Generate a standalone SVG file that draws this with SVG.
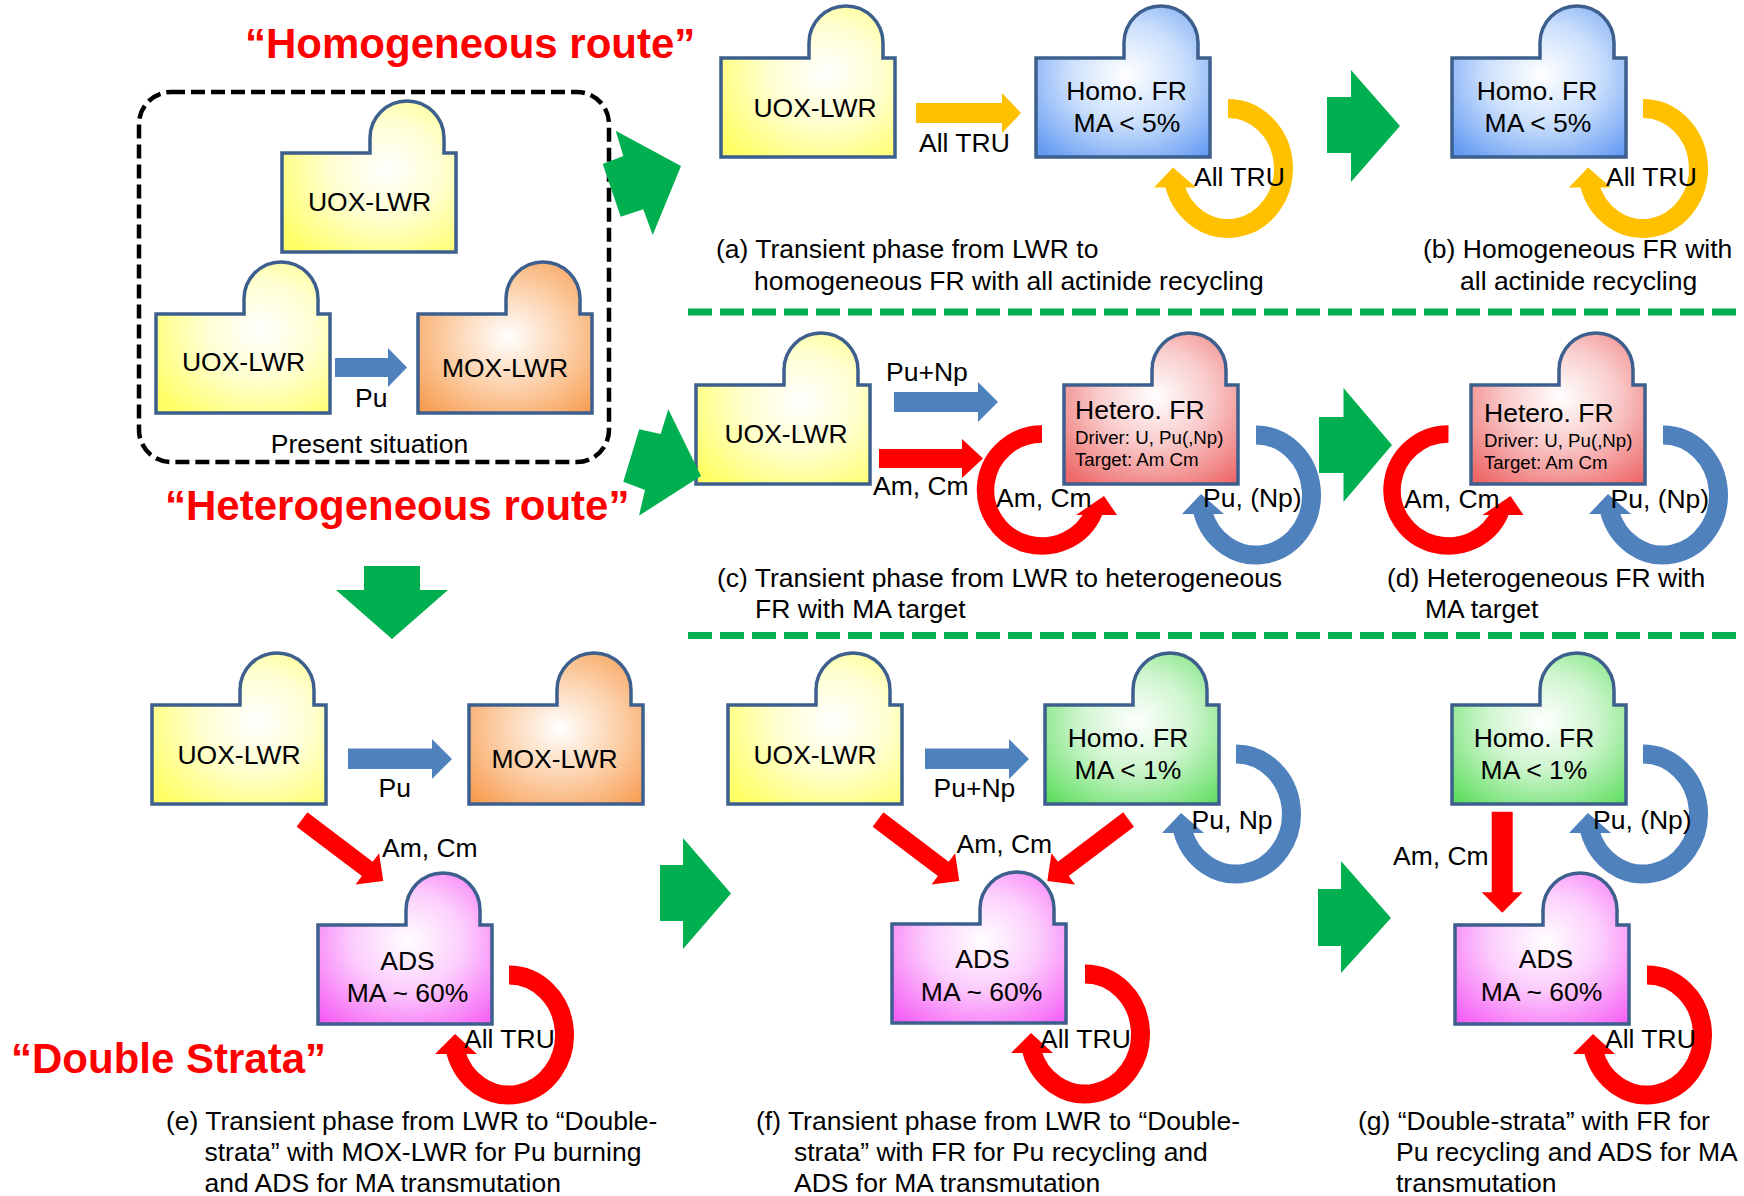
<svg xmlns="http://www.w3.org/2000/svg" xmlns:xlink="http://www.w3.org/1999/xlink" width="1744" height="1196" viewBox="0 0 1744 1196">
<style>
.t{font-family:"Liberation Sans",Arial,sans-serif;font-size:26.5px;fill:#000}
.c{text-anchor:middle}
.s{font-size:18.7px}
.ttl{font-family:"Liberation Sans",Arial,sans-serif;font-size:42px;font-weight:bold;fill:#FF0000}
.nd{stroke:#3D5F8E;stroke-width:3.5;stroke-linejoin:miter}
.gr{fill:#00B050}
.rd{fill:#FF0000}
.bl{fill:#4F81BD}
.ye{fill:#FFC000}
.lp{fill:none;stroke-linecap:butt}
</style>
<defs>
<path id="shp" d="M0,0 H88 V-15 A37,37 0 0 1 162,-15 V0 H174 V99 H0 Z"/>
<radialGradient id="gY" cx="0.6" cy="0.45" r="0.72"><stop offset="0" stop-color="#FFFFFF"/><stop offset="0.45" stop-color="#FFFFD0"/><stop offset="1" stop-color="#FFFF66"/></radialGradient>
<radialGradient id="gO" cx="0.52" cy="0.5" r="0.72"><stop offset="0" stop-color="#FFFFFF"/><stop offset="0.45" stop-color="#FCD3AE"/><stop offset="1" stop-color="#F79646"/></radialGradient>
<radialGradient id="gB" cx="0.52" cy="0.45" r="0.72"><stop offset="0" stop-color="#FFFFFF"/><stop offset="0.45" stop-color="#CCE0FC"/><stop offset="1" stop-color="#6098F2"/></radialGradient>
<radialGradient id="gR" cx="0.52" cy="0.42" r="0.72"><stop offset="0" stop-color="#FFFFFF"/><stop offset="0.45" stop-color="#F9CACA"/><stop offset="1" stop-color="#EE6868"/></radialGradient>
<radialGradient id="gG" cx="0.52" cy="0.45" r="0.72"><stop offset="0" stop-color="#FFFFFF"/><stop offset="0.45" stop-color="#CDF5CD"/><stop offset="1" stop-color="#5EDE5E"/></radialGradient>
<radialGradient id="gM" cx="0.52" cy="0.45" r="0.72"><stop offset="0" stop-color="#FFFFFF"/><stop offset="0.45" stop-color="#FCCDFC"/><stop offset="1" stop-color="#F55CF5"/></radialGradient>
</defs>
<rect width="1744" height="1196" fill="#FFFFFF"/>

<!-- titles -->
<text class="ttl" x="245" y="58">“Homogeneous route”</text>
<text class="ttl" x="165" y="520">“Heterogeneous route”</text>
<text class="ttl" x="11" y="1073">“Double Strata”</text>

<!-- present situation frame -->
<g id="present-frame">
<rect x="139" y="92" width="470" height="370" rx="32" ry="32" fill="none" stroke="#000" stroke-width="4.5" stroke-dasharray="14 6"/>
<text class="t c" x="369.5" y="453">Present situation</text>
</g>

<!-- dashed separators -->
<g id="separators" stroke="#00B050" stroke-width="7" stroke-dasharray="24 8" fill="none">
<line x1="688" y1="312" x2="1736" y2="312"/>
<line x1="688" y1="635.5" x2="1736" y2="635.5"/>
</g>

<!-- nodes -->
<g id="n-present-uox-top"><use xlink:href="#shp" transform="translate(282,153)" fill="url(#gY)" class="nd"/><text class="t c" x="369.5" y="211">UOX-LWR</text></g>
<g id="n-present-uox"><use xlink:href="#shp" transform="translate(156,314)" fill="url(#gY)" class="nd"/><text class="t c" x="243.5" y="371">UOX-LWR</text></g>
<g id="n-present-mox"><use xlink:href="#shp" transform="translate(418,314)" fill="url(#gO)" class="nd"/><text class="t c" x="505" y="377">MOX-LWR</text></g>

<g id="n-a-uox"><use xlink:href="#shp" transform="translate(721,58)" fill="url(#gY)" class="nd"/><text class="t c" x="815" y="117">UOX-LWR</text></g>
<g id="n-a-fr"><use xlink:href="#shp" transform="translate(1036,58)" fill="url(#gB)" class="nd"/><text class="t c" x="1126.5" y="100">Homo. FR</text><text class="t c" x="1127" y="132">MA &lt; 5%</text></g>
<g id="n-b-fr"><use xlink:href="#shp" transform="translate(1452,58)" fill="url(#gB)" class="nd"/><text class="t c" x="1537" y="100">Homo. FR</text><text class="t c" x="1538" y="132">MA &lt; 5%</text></g>

<g id="n-c-uox"><use xlink:href="#shp" transform="translate(696,385)" fill="url(#gY)" class="nd"/><text class="t c" x="786" y="443">UOX-LWR</text></g>
<g id="n-c-fr"><use xlink:href="#shp" transform="translate(1064,385)" fill="url(#gR)" class="nd"/><text class="t" x="1075" y="419">Hetero. FR</text><text class="t s" x="1075" y="444">Driver: U, Pu(,Np)</text><text class="t s" x="1075" y="466">Target: Am Cm</text></g>
<g id="n-d-fr"><use xlink:href="#shp" transform="translate(1471,385)" fill="url(#gR)" class="nd"/><text class="t" x="1484" y="422">Hetero. FR</text><text class="t s" x="1484" y="447">Driver: U, Pu(,Np)</text><text class="t s" x="1484" y="469">Target: Am Cm</text></g>

<g id="n-e-uox"><use xlink:href="#shp" transform="translate(152,705)" fill="url(#gY)" class="nd"/><text class="t c" x="239" y="763.5">UOX-LWR</text></g>
<g id="n-e-mox"><use xlink:href="#shp" transform="translate(469,705)" fill="url(#gO)" class="nd"/><text class="t c" x="554.5" y="768">MOX-LWR</text></g>
<g id="n-e-ads"><use xlink:href="#shp" transform="translate(318,925)" fill="url(#gM)" class="nd"/><text class="t c" x="407.5" y="969.5">ADS</text><text class="t c" x="407.5" y="1002">MA ~ 60%</text></g>

<g id="n-f-uox"><use xlink:href="#shp" transform="translate(728,705)" fill="url(#gY)" class="nd"/><text class="t c" x="815" y="764">UOX-LWR</text></g>
<g id="n-f-fr"><use xlink:href="#shp" transform="translate(1045,705)" fill="url(#gG)" class="nd"/><text class="t c" x="1128" y="747">Homo. FR</text><text class="t c" x="1128" y="779">MA &lt; 1%</text></g>
<g id="n-f-ads"><use xlink:href="#shp" transform="translate(892,924)" fill="url(#gM)" class="nd"/><text class="t c" x="982.5" y="968">ADS</text><text class="t c" x="981.6" y="1001">MA ~ 60%</text></g>

<g id="n-g-fr"><use xlink:href="#shp" transform="translate(1452,705)" fill="url(#gG)" class="nd"/><text class="t c" x="1534" y="747">Homo. FR</text><text class="t c" x="1534" y="779">MA &lt; 1%</text></g>
<g id="n-g-ads"><use xlink:href="#shp" transform="translate(1455,925)" fill="url(#gM)" class="nd"/><text class="t c" x="1546" y="968">ADS</text><text class="t c" x="1541.5" y="1001">MA ~ 60%</text></g>

<!-- connectors -->
<g id="connectors">
<!-- big green transition arrows -->
<polygon class="gr" points="602.7,164 623.3,156 615.7,130.7 681,166 652.7,235 643.3,209.3 620.7,216.7"/>
<polygon class="gr" points="623.3,481.7 639.3,429.3 660.7,434 668.3,409.3 701,476 639,515.7 645,490"/>
<polygon class="gr" points="1327,97 1351,97 1351,70 1400,126 1351,182 1351,153 1327,153"/>
<polygon class="gr" points="1319,417 1343.5,417 1343.5,388 1392,445 1343.5,502 1343.5,473 1319,473"/>
<polygon class="gr" points="660,865 683,865 683,838 731,893.5 683,949 683,921 660,921"/>
<polygon class="gr" points="1318,889 1341,889 1341,861 1391,918 1341,973 1341,946 1318,946"/>
<polygon class="gr" points="364,566 420,566 420,590 448,590 392,639 336,590 364,590"/>

<!-- straight flow arrows -->
<polygon class="bl" points="335,358 388,358 388,348 407,367.5 388,387 388,377 335,377"/>
<polygon class="ye" points="916,103 1002,103 1002,93 1021,113 1002,133 1002,123 916,123"/>
<polygon class="bl" points="894,392 978,392 978,382 998,402 978,422 978,412 894,412"/>
<polygon class="rd" points="879,449 962,449 962,439 983,458.5 962,478 962,468 879,468"/>
<polygon class="bl" points="348,748.5 432,748.5 432,739 452,759 432,779 432,769 348,769"/>
<polygon class="bl" points="925,748.5 1009,748.5 1009,739 1029,759 1009,779 1009,769 925,769"/>
<polygon class="rd" points="307.4,812.3 372.7,861.7 379.1,853.3 383.3,881 355.5,884.5 361.9,876.1 296.6,826.7"/>
<polygon class="rd" points="883.4,812.3 948.7,861.7 955.1,853.3 959.3,881 931.5,884.5 937.9,876.1 872.6,826.7"/>
<polygon class="rd" points="1123.2,812.3 1057.9,861.7 1051.5,853.3 1047.3,881 1075.1,884.5 1068.7,876.1 1134,826.7"/>
<polygon class="rd" points="1491.7,811.7 1512.7,811.7 1512.7,892.3 1522.7,892.3 1502.3,912.7 1481.7,892.3 1491.7,892.3"/>

<!-- recycling loops (clockwise) -->
<path class="lp" stroke="#FFC000" stroke-width="19" d="M1228,108.5 A55.5,60 0 1 1 1174.5,184.5"/>
<polygon class="ye" points="1154,187.5 1196,187.5 1173,167.5"/>
<path class="lp" stroke="#FFC000" stroke-width="19" d="M1643,108.5 A55.5,60 0 1 1 1589.5,184.5"/>
<polygon class="ye" points="1569,187.5 1611,187.5 1588,167.5"/>

<path class="lp" stroke="#4F81BD" stroke-width="19" d="M1256,435 A55.5,60 0 1 1 1202.5,511"/>
<polygon class="bl" points="1182,514 1224,514 1201,494"/>
<path class="lp" stroke="#4F81BD" stroke-width="19" d="M1663,435 A55.5,60 0 1 1 1609.5,511"/>
<polygon class="bl" points="1589,514 1631,514 1608,494"/>
<path class="lp" stroke="#4F81BD" stroke-width="19" d="M1236,754 A55.5,60 0 1 1 1182.5,830"/>
<polygon class="bl" points="1162,833 1204,833 1181,813"/>
<path class="lp" stroke="#4F81BD" stroke-width="19" d="M1643,754 A55.5,60 0 1 1 1589.5,830"/>
<polygon class="bl" points="1569,833 1611,833 1588,813"/>

<path class="lp" stroke="#FF0000" stroke-width="19" d="M509,975 A55.5,60 0 1 1 455.5,1051"/>
<polygon class="rd" points="435,1054 477,1054 455,1034"/>
<path class="lp" stroke="#FF0000" stroke-width="19" d="M1085,974 A55.5,60 0 1 1 1031.5,1050"/>
<polygon class="rd" points="1011,1053 1053,1053 1031,1033"/>
<path class="lp" stroke="#FF0000" stroke-width="19" d="M1647,975 A55.5,60 0 1 1 1593.5,1051"/>
<polygon class="rd" points="1573,1054 1615,1054 1593,1034"/>

<!-- recycling loops (counter-clockwise, MA target) -->
<path class="lp" stroke="#FF0000" stroke-width="17.5" d="M1042,434 A56.5,56 0 1 0 1094,512"/>
<polygon class="rd" points="1076,515 1117,515 1104,496"/>
<path class="lp" stroke="#FF0000" stroke-width="17.5" d="M1448.5,434 A56.5,56 0 1 0 1500.5,512"/>
<polygon class="rd" points="1482.5,515 1523.5,515 1510.5,496"/>

<!-- connector labels -->
<text class="t" x="355" y="407">Pu</text>
<text class="t" x="919" y="152">All TRU</text>
<text class="t" x="1194" y="186">All TRU</text>
<text class="t" x="1606" y="186">All TRU</text>
<text class="t" x="886" y="381">Pu+Np</text>
<text class="t" x="873" y="495">Am, Cm</text>
<text class="t" x="996" y="507">Am, Cm</text>
<text class="t" x="1203" y="507">Pu, (Np)</text>
<text class="t" x="1404" y="508">Am, Cm</text>
<text class="t" x="1610.5" y="508">Pu, (Np)</text>
<text class="t" x="378.5" y="797">Pu</text>
<text class="t" x="382" y="857">Am, Cm</text>
<text class="t" x="464" y="1048">All TRU</text>
<text class="t" x="933.5" y="797">Pu+Np</text>
<text class="t" x="956.5" y="853">Am, Cm</text>
<text class="t" x="1191.5" y="828.5">Pu, Np</text>
<text class="t" x="1040" y="1048">All TRU</text>
<text class="t" x="1393" y="865">Am, Cm</text>
<text class="t" x="1593" y="828.5">Pu, (Np)</text>
<text class="t" x="1605" y="1048">All TRU</text>
</g>

<!-- captions -->
<g id="captions">
<text class="t" x="716" y="258">(a) Transient phase from LWR to</text>
<text class="t" x="754" y="289.5">homogeneous FR with all actinide recycling</text>
<text class="t" x="1423" y="258">(b) Homogeneous FR with</text>
<text class="t" x="1460" y="289.5">all actinide recycling</text>
<text class="t" x="717" y="587">(c) Transient phase from LWR to heterogeneous</text>
<text class="t" x="755" y="618">FR with MA target</text>
<text class="t" x="1387" y="587">(d) Heterogeneous FR with</text>
<text class="t" x="1425" y="618">MA target</text>
<text class="t" x="166" y="1130">(e) Transient phase from LWR to “Double-</text>
<text class="t" x="204.5" y="1161">strata” with MOX-LWR for Pu burning</text>
<text class="t" x="204.5" y="1192">and ADS for MA transmutation</text>
<text class="t" x="756" y="1130">(f) Transient phase from LWR to “Double-</text>
<text class="t" x="794" y="1161">strata” with FR for Pu recycling and</text>
<text class="t" x="794" y="1192">ADS for MA transmutation</text>
<text class="t" x="1358" y="1130">(g) “Double-strata” with FR for</text>
<text class="t" x="1396" y="1161">Pu recycling and ADS for MA</text>
<text class="t" x="1396" y="1192">transmutation</text>
</g>
</svg>
